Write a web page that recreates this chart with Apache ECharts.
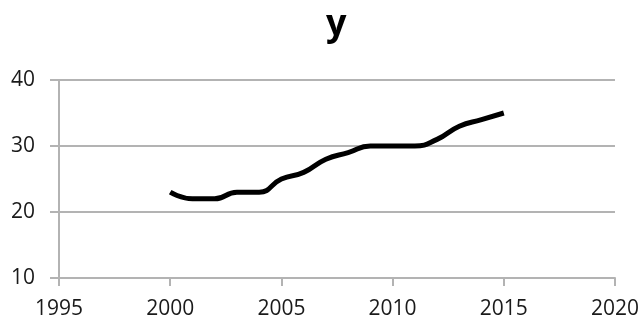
<!DOCTYPE html>
<html>
<head>
<meta charset="utf-8">
<script src="https://cdn.jsdelivr.net/npm/echarts@6/dist/echarts.min.js"></script>
<style>
  html, body { margin: 0; padding: 0; background: #fff; }
  #chart { width: 642px; height: 320px; }
</style>
</head>
<body>
<div id="chart"></div>
<script>
// Yearly values of y
const years = [2000, 2001, 2002, 2003, 2004, 2005, 2006, 2007, 2008, 2009, 2010, 2011, 2012, 2013, 2014, 2015];
const yValues = [23, 22, 22, 23, 23, 25, 26, 28, 29, 30, 30, 30, 31, 33, 34, 35];

const chart = echarts.init(document.getElementById('chart'));
const gray = '#b3b3b3';
const font = '"Open Sans", "Noto Sans", sans-serif';

chart.setOption({
  animation: false,
  title: {
    text: 'y',
    left: 321,
    top: 2,
    textStyle: { fontFamily: font, fontSize: 36, fontWeight: 'bold', color: '#000' }
  },
  grid: { left: 59, right: 27, top: 80, bottom: 42 },
  xAxis: {
    type: 'value',
    min: 1995,
    max: 2020,
    interval: 5,
    axisLine: { show: true, lineStyle: { color: gray, width: 2 } },
    axisTick: { show: true, length: 8, lineStyle: { color: gray, width: 2 } },
    splitLine: { show: false },
    axisLabel: {
      fontFamily: font, fontSize: 21, color: '#1a1a1a', margin: 21,
      formatter: (v) => String(v)
    }
  },
  yAxis: {
    type: 'value',
    min: 10,
    max: 40,
    interval: 10,
    axisLine: { show: true, lineStyle: { color: gray, width: 2 } },
    axisTick: { show: true, length: 9, lineStyle: { color: gray, width: 2 } },
    splitLine: { show: true, lineStyle: { color: gray, width: 2 } },
    axisLabel: { fontFamily: font, fontSize: 21, color: '#1a1a1a', margin: 24 }
  },
  series: [{
    type: 'line',
    data: years.map((yr, i) => [yr, yValues[i]]),
    smooth: 0.5,
    showSymbol: false,
    lineStyle: { color: '#000', width: 5 }
  }]
});
</script>
</body>
</html>
